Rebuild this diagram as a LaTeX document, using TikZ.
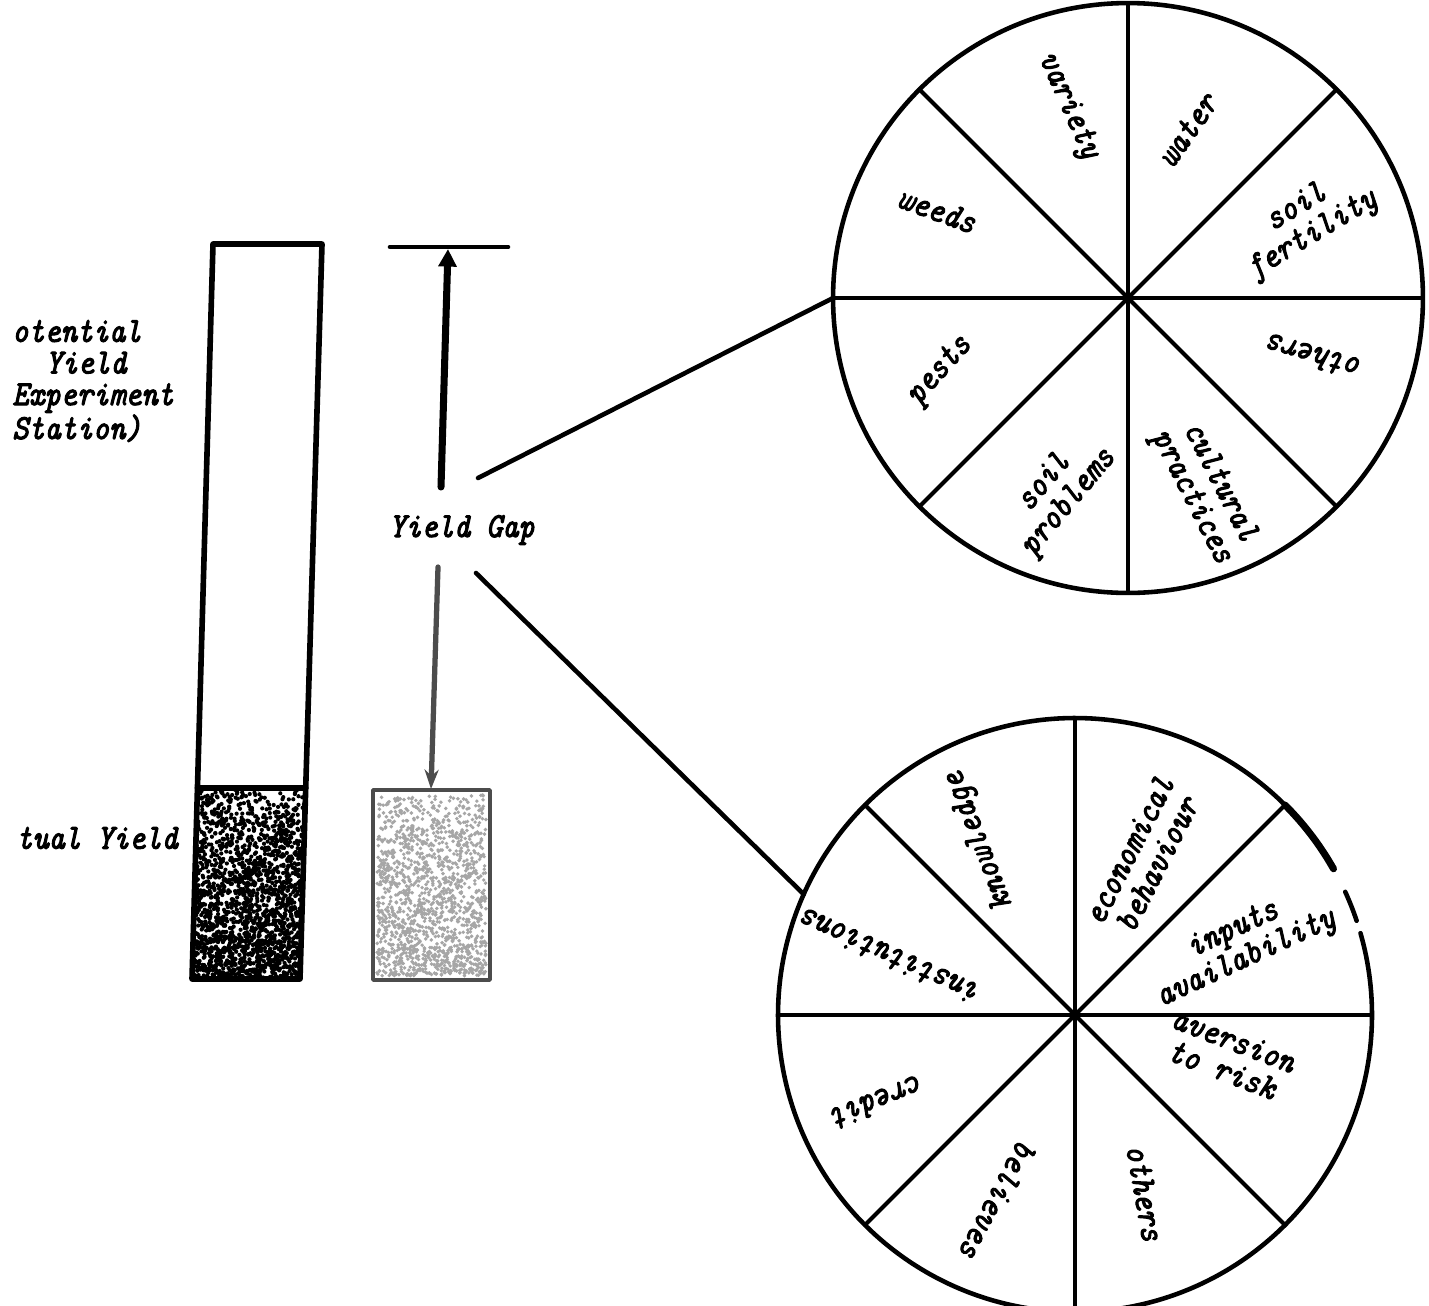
\documentclass[tikz,border=0pt]{standalone}
\usepackage{fontspec}
\newfontfamily\hand{lmmono10-italic.otf}[FakeBold=3, FakeStretch=0.875]
\usetikzlibrary{arrows.meta,calc}

\tikzset{
  lbl/.style={font=\hand\fontsize{20}{18}\selectfont, align=center, inner sep=0pt},
  wheel/.style={circle, draw, line width=2.6pt, inner sep=0pt, outer sep=0pt},
  spoke/.style={line width=2.3pt},
  conn/.style={line width=2.6pt},
  barline/.style={line width=3.2pt},
  rim/.style={line width=2.6pt},
}

\begin{document}
\begin{tikzpicture}[x=0.02cm, y=-0.02cm, line cap=round, line join=round]
\useasboundingbox (0,0) rectangle (1429,1305);
\fill[white] (0,0) rectangle (1429,1305);

% ---- tall bar: potential yield with the actual yield stippled at its foot
\coordinate (barTL) at (213,244);
\coordinate (barTR) at (322,244);
\coordinate (barBR) at (300,979);
\coordinate (barBL) at (192,979);
\coordinate (stipL) at ($(barTL)!0.74!(barBL)$);
\coordinate (stipR) at ($(barTR)!0.74!(barBR)$);

\pgfmathsetseed{4711}
\foreach \i in {1,...,1900}{
  \pgfmathsetmacro\v{rnd^0.75}
  \pgfmathsetmacro\u{rnd}
  \pgfmathsetmacro\py{788+190*\v}
  \pgfmathsetmacro\px{197.5-5.5*\v+(108.2-0.2*\v)*\u}
  \fill ({\px},{\py}) circle (1.2pt);
}
\draw[barline] (barTL) -- (barTR) -- (barBR) -- (barBL) -- cycle;
\draw[barline] (stipL) -- (stipR);

% ---- grey box: actual yield
\foreach \i in {1,...,1500}{
  \pgfmathsetmacro\v{rnd^0.8}
  \pgfmathsetmacro\u{rnd}
  \fill[gray!70] ({377+109*\u},{794+182*\v}) circle (1.1pt);
}
\node[draw=gray!60!black, line width=2pt, minimum width=2.34cm, minimum height=3.8cm,
      inner sep=0pt, outer sep=0pt] (actbox) at (431.5,885) {};

% ---- left labels
\node[lbl, anchor=west, align=left] (potlabel) at (12,381)
  {otential\\\hspace*{0.95em}Yield\\Experiment\\Station)};
\node[lbl, anchor=west] (actlabel) at (16,838) {tual Yield};

% ---- yield gap arrows
\coordinate (capL) at (390,247);
\coordinate (capR) at (508,247);
\coordinate (upTail) at (441,487);
\coordinate (upHead) at (448,249);
\draw[line width=2.6pt] (capL) -- (capR);
\draw[line width=4pt, -{Triangle[length=10pt,width=10pt]}] (upTail) -- (upHead);

\node[lbl] (gap) at (462,530) {Yield Gap};

\coordinate (downTail) at (438,567);
\coordinate (downHead) at (431,789);
\draw[gray!60!black, line width=3pt, -{Stealth[length=11pt,width=8pt]}] (downTail) -- (downHead);

% ---- wheel of technical constraints
\node[wheel, minimum size=11.8cm] (tw) at (1128,298) {};
\foreach \a/\b in {0/180,45/225,90/270,135/315}
  \draw[spoke] (tw.\a) -- (tw.\b);

\node[lbl, rotate=-66] (tvariety) at (1068,106) {variety};
\node[lbl, rotate=55] (twater) at (1187,130) {water};
\node[lbl, rotate=31] (tsoilfert) at (1305,222) {soil\\fertility};
\node[lbl, rotate=164] (tothers) at (1314,357) {others};
\node[lbl, rotate=-63] (tcultural) at (1205,490) {cultural\\practices};
\node[lbl, rotate=50] (tsoilprob) at (1057,493) {soil\\problems};
\node[lbl, rotate=48] (tpests) at (940,371) {pests};
\node[lbl, rotate=-20] (tweeds) at (937,210) {weeds};

% ---- wheel of socio-economic constraints
\node[circle, inner sep=0pt, outer sep=0pt, minimum size=11.88cm] (bw) at (1075,1015) {};
\draw[rim] plot[domain=45:376, samples=160, smooth] ({1075+297*cos(\x)},{1015-297*sin(\x)});
\draw[line width=4pt] plot[domain=29.5:45, samples=20, smooth] ({1075+297*cos(\x)},{1015-297*sin(\x)});
\draw[rim] plot[domain=18.5:24.5, samples=8, smooth] ({1075+297*cos(\x)},{1015-297*sin(\x)});
\foreach \a/\b in {0/180,45/225,90/270,135/315}
  \draw[spoke] (bw.\a) -- (bw.\b);

\node[lbl, rotate=111] (bknow) at (980,840) {knowledge};
\node[lbl, rotate=63] (becon) at (1143,857) {economical\\behaviour};
\node[lbl, rotate=25] (binputs) at (1240,945) {inputs\\availability};
\node[lbl, rotate=-21] (baversion) at (1228,1055) {aversion\\to risk};
\node[lbl, rotate=-80] (bothers) at (1145,1193) {others};
\node[lbl, rotate=-118] (bbelieves) at (998,1200) {believes};
\node[lbl, rotate=202] (bcredit) at (878,1102) {credit};
\node[lbl, rotate=156] (binst) at (890,957) {institutions};

% ---- connectors from the yield gap to both wheels
\coordinate (gapUp) at (478,478);
\coordinate (gapDown) at (476,573);
\draw[conn] (gapUp) -- (tw.180);
\draw[conn] (gapDown) -- (bw.156);
\end{tikzpicture}
\end{document}
